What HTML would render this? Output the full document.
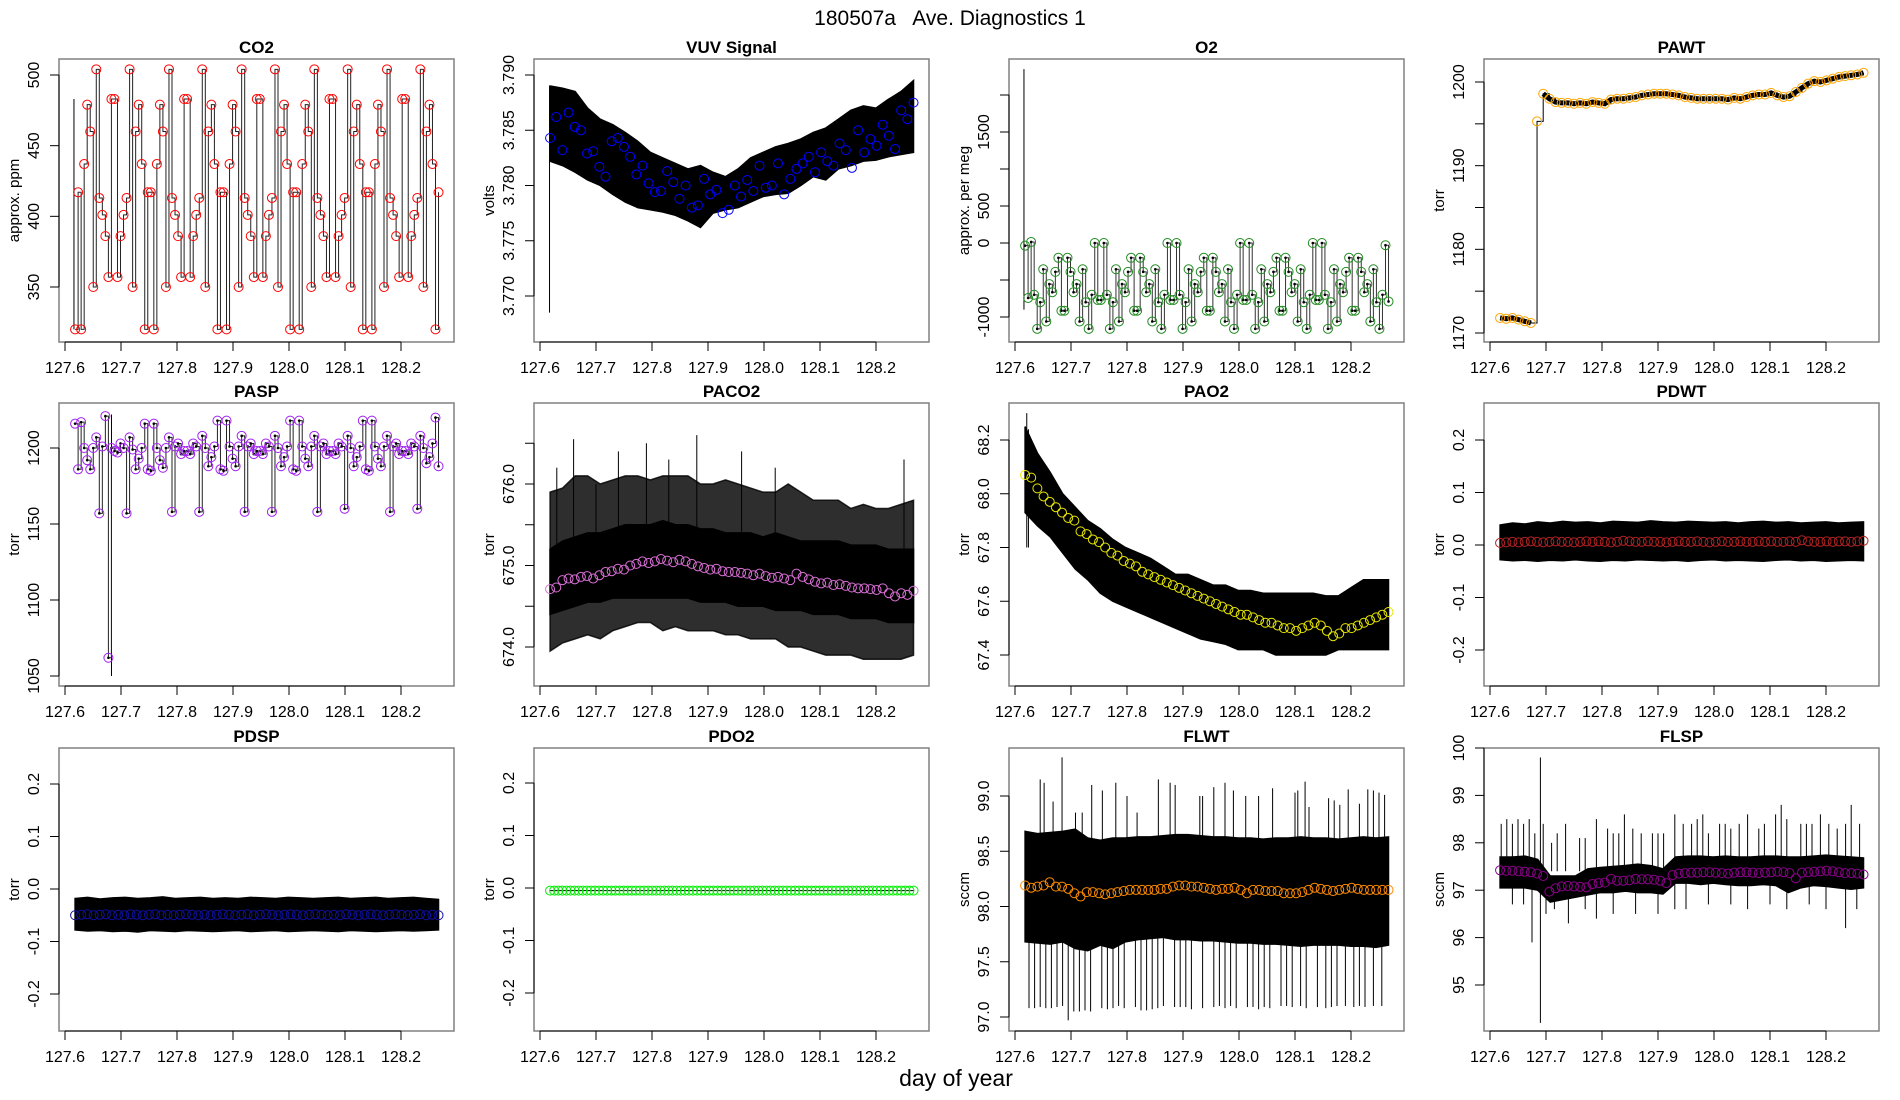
<!DOCTYPE html>
<html><head><meta charset="utf-8"><style>
html,body{margin:0;padding:0;background:#fff;}
svg{display:block;font-family:"Liberation Sans",sans-serif;}
</style></head><body>
<svg id="chart" width="1900" height="1100" viewBox="0 0 1900 1100">
<text x="950" y="25" text-anchor="middle" font-size="21" xml:space="preserve" style="white-space:pre">180507a   Ave. Diagnostics 1</text>
<text x="956" y="1086" text-anchor="middle" font-size="23">day of year</text>
</svg>
<script>
// ---- data ----
const xTicks=[127.6,127.7,127.8,127.9,128.0,128.1,128.2];
const xTickLabels=["127.6","127.7","127.8","127.9","128.0","128.1","128.2"];
const tStart=127.618, tEnd=128.267;

const co2Vals=[320,417,320,437,479,460,350,504,413,401,386,357,483,483,357,386,401,413,504,350,460,479,437,320,417,417,320,437,479,460,350,504,413,401,386,357,483,483,357,386,401,413,504,350,460,479,437,320,417,417,320,437,479,460,350,504,413,401,386,357,483,483,357,386,401,413,504,350,460,479,437,320,417,417,320,437,479,460,350,504,413,401,386,357,483,483,357,386,401,413,504,350,460,479,437,320,417,417,320,437,479,460,350,504,413,401,386,357,483,483,357,386,401,413,504,350,460,479,437,320,417];

const vuvVals=[3.7843,3.7862,3.7832,3.7866,3.7853,3.7850,3.7829,3.7831,3.7817,3.7808,3.7840,3.7843,3.7835,3.7826,3.7810,3.7818,3.7802,3.7794,3.7795,3.7813,3.7803,3.7788,3.7800,3.7780,3.7782,3.7806,3.7792,3.7796,3.7775,3.7778,3.7800,3.7790,3.7805,3.7795,3.7818,3.7798,3.7800,3.7820,3.7792,3.7806,3.7815,3.7820,3.7826,3.7812,3.7830,3.7822,3.7818,3.7838,3.7832,3.7816,3.7850,3.7830,3.7842,3.7836,3.7855,3.7845,3.7833,3.7868,3.7860,3.7875];
const vuvHi=[3.7890,3.7888,3.7885,3.7870,3.7860,3.7855,3.7848,3.7840,3.7830,3.7825,3.7820,3.7815,3.7818,3.7812,3.7808,3.7815,3.7825,3.7830,3.7835,3.7838,3.7842,3.7848,3.7852,3.7860,3.7868,3.7872,3.7870,3.7878,3.7885,3.7895];
const vuvLo=[3.7822,3.7818,3.7812,3.7805,3.7800,3.7792,3.7785,3.7780,3.7778,3.7776,3.7773,3.7768,3.7762,3.7775,3.7778,3.7780,3.7785,3.7790,3.7792,3.7793,3.7800,3.7808,3.7805,3.7815,3.7818,3.7822,3.7823,3.7826,3.7828,3.7830];

const o2Vals=[-36,-743,14,-700,-1160,-800,-355,-1060,-555,-665,-390,-200,-915,-915,-200,-390,-665,-555,-1060,-355,-800,-1160,-700,0,-770,-770,0,-700,-1160,-800,-355,-1060,-555,-665,-390,-200,-915,-915,-200,-390,-665,-555,-1060,-355,-800,-1160,-700,0,-770,-770,0,-700,-1160,-800,-355,-1060,-555,-665,-390,-200,-915,-915,-200,-390,-665,-555,-1060,-355,-800,-1160,-700,0,-770,-770,0,-700,-1160,-800,-355,-1060,-555,-665,-390,-200,-915,-915,-200,-390,-665,-555,-1060,-355,-800,-1160,-700,0,-770,-770,0,-700,-1160,-800,-355,-1060,-555,-665,-390,-200,-915,-915,-200,-390,-665,-555,-1060,-355,-800,-1160,-700,-30,-790];

const pawtVals=[1171.8,1171.7,1171.8,1171.6,1171.4,1171.2,1195.3,1198.6,1198.0,1197.6,1197.5,1197.5,1197.4,1197.5,1197.4,1197.6,1197.5,1197.4,1197.9,1198.0,1198.0,1198.1,1198.2,1198.4,1198.5,1198.6,1198.6,1198.6,1198.5,1198.4,1198.2,1198.1,1198.0,1198.0,1198.0,1198.0,1198.0,1197.9,1198.1,1198.0,1198.2,1198.4,1198.5,1198.5,1198.7,1198.4,1198.2,1198.3,1198.8,1199.3,1199.8,1200.1,1200.0,1200.2,1200.4,1200.6,1200.7,1200.8,1200.9,1201.1];

const paspVals=[1216,1186,1217,1200,1192,1186,1200,1207,1157,1201,1221,1062,1200,1198,1197,1203,1200,1157,1207,1199,1186,1193,1200,1216,1186,1185,1216,1200,1192,1187,1200,1207,1158,1201,1203,1196,1198,1198,1196,1203,1201,1158,1208,1200,1188,1194,1201,1218,1186,1185,1218,1201,1193,1188,1201,1208,1158,1201,1203,1196,1198,1198,1196,1203,1201,1158,1208,1200,1188,1194,1201,1218,1186,1185,1218,1201,1193,1188,1201,1208,1158,1201,1203,1196,1198,1198,1196,1203,1201,1160,1208,1200,1188,1194,1201,1218,1186,1185,1218,1201,1193,1188,1201,1208,1158,1201,1203,1196,1198,1198,1196,1203,1201,1160,1208,1200,1190,1194,1203,1220,1188];

const paco2Vals=[674.71,674.73,674.82,674.84,674.83,674.86,674.87,674.84,674.88,674.92,674.93,674.96,674.95,675.00,675.02,675.05,675.03,675.05,675.08,675.06,675.04,675.07,675.05,675.02,674.99,674.97,674.95,674.96,674.93,674.92,674.92,674.91,674.90,674.88,674.90,674.87,674.85,674.86,674.84,674.82,674.90,674.86,674.83,674.80,674.78,674.79,674.76,674.77,674.75,674.73,674.72,674.72,674.71,674.70,674.72,674.66,674.62,674.66,674.64,674.69];
const paco2CoreHi=[675.2,675.3,675.35,675.4,675.4,675.45,675.5,675.5,675.5,675.55,675.5,675.5,675.45,675.45,675.4,675.4,675.4,675.35,675.4,675.35,675.3,675.3,675.3,675.3,675.25,675.25,675.25,675.2,675.2,675.2];
const paco2CoreLo=[674.4,674.45,674.5,674.55,674.55,674.6,674.6,674.6,674.6,674.6,674.6,674.6,674.55,674.55,674.55,674.5,674.5,674.5,674.45,674.45,674.45,674.4,674.4,674.4,674.35,674.35,674.35,674.3,674.3,674.3];
const paco2OutHi=[675.9,675.95,676.1,676.1,676.0,676.05,676.1,676.1,676.05,676.1,676.1,676.1,676.0,676.0,676.05,676.0,675.95,675.9,675.9,676.0,675.9,675.8,675.8,675.8,675.7,675.75,675.7,675.7,675.75,675.8];
const paco2OutLo=[673.95,674.05,674.1,674.15,674.1,674.2,674.25,674.3,674.3,674.2,674.25,674.2,674.2,674.2,674.15,674.15,674.1,674.1,674.1,674.0,674.0,673.95,673.9,673.9,673.9,673.85,673.85,673.85,673.85,673.9];
const paco2SpikeT=[127.63,127.66,127.70,127.74,127.79,127.83,127.88,127.96,128.02,128.25];
const paco2SpikeHi=[676.2,676.55,676.0,676.4,676.5,676.3,676.6,676.4,676.2,676.3];

const pao2Vals=[68.07,68.06,68.02,67.99,67.97,67.95,67.93,67.91,67.90,67.86,67.85,67.83,67.82,67.80,67.78,67.77,67.75,67.74,67.73,67.71,67.70,67.69,67.68,67.67,67.66,67.65,67.64,67.63,67.62,67.61,67.60,67.59,67.58,67.57,67.56,67.55,67.55,67.54,67.53,67.52,67.52,67.51,67.50,67.50,67.49,67.50,67.51,67.52,67.51,67.49,67.47,67.48,67.50,67.50,67.51,67.52,67.53,67.54,67.55,67.56];
const pao2Hi=[68.25,68.15,68.08,68.0,67.95,67.9,67.87,67.83,67.8,67.78,67.76,67.73,67.7,67.7,67.68,67.66,67.66,67.64,67.64,67.63,67.63,67.63,67.63,67.63,67.62,67.62,67.65,67.68,67.68,67.68];
const pao2Lo=[67.93,67.88,67.84,67.78,67.72,67.68,67.63,67.6,67.58,67.56,67.54,67.52,67.5,67.48,67.46,67.45,67.44,67.42,67.42,67.42,67.4,67.4,67.4,67.4,67.4,67.42,67.42,67.42,67.42,67.42];

const pdwtVals=[0.004,0.005,0.006,0.005,0.006,0.007,0.006,0.005,0.006,0.007,0.006,0.006,0.005,0.006,0.007,0.006,0.007,0.006,0.005,0.006,0.008,0.007,0.006,0.006,0.007,0.006,0.006,0.005,0.006,0.007,0.006,0.006,0.007,0.006,0.005,0.006,0.007,0.006,0.006,0.007,0.006,0.006,0.007,0.006,0.007,0.006,0.006,0.007,0.006,0.009,0.007,0.006,0.006,0.007,0.006,0.007,0.007,0.006,0.007,0.008];
const pdwtHi=[0.038,0.042,0.040,0.044,0.042,0.045,0.043,0.044,0.042,0.045,0.044,0.043,0.046,0.044,0.043,0.045,0.044,0.043,0.044,0.042,0.044,0.045,0.043,0.044,0.042,0.043,0.044,0.042,0.043,0.044];
const pdwtLo=[-0.028,-0.030,-0.029,-0.031,-0.029,-0.030,-0.028,-0.030,-0.031,-0.029,-0.030,-0.028,-0.029,-0.030,-0.029,-0.031,-0.029,-0.028,-0.030,-0.029,-0.030,-0.031,-0.029,-0.028,-0.030,-0.029,-0.031,-0.030,-0.029,-0.030];

const pdspVals=[-0.050,-0.049,-0.048,-0.050,-0.049,-0.048,-0.050,-0.049,-0.050,-0.048,-0.049,-0.050,-0.049,-0.048,-0.050,-0.049,-0.050,-0.049,-0.048,-0.049,-0.050,-0.049,-0.050,-0.049,-0.048,-0.049,-0.050,-0.049,-0.048,-0.050,-0.049,-0.048,-0.049,-0.050,-0.049,-0.048,-0.049,-0.050,-0.049,-0.048,-0.049,-0.050,-0.049,-0.050,-0.048,-0.049,-0.050,-0.049,-0.048,-0.049,-0.050,-0.049,-0.048,-0.049,-0.050,-0.049,-0.048,-0.050,-0.049,-0.050];
const pdspHi=[-0.018,-0.016,-0.019,-0.017,-0.016,-0.018,-0.017,-0.015,-0.018,-0.017,-0.016,-0.018,-0.017,-0.018,-0.016,-0.017,-0.018,-0.016,-0.017,-0.018,-0.017,-0.016,-0.018,-0.017,-0.016,-0.018,-0.017,-0.016,-0.018,-0.020];
const pdspLo=[-0.078,-0.080,-0.079,-0.081,-0.080,-0.082,-0.079,-0.080,-0.081,-0.079,-0.080,-0.081,-0.080,-0.079,-0.081,-0.080,-0.079,-0.081,-0.080,-0.079,-0.080,-0.081,-0.079,-0.080,-0.081,-0.080,-0.079,-0.080,-0.079,-0.078];

const pdo2Vals=[-0.005,-0.005,-0.005,-0.005,-0.005,-0.005,-0.005,-0.005,-0.005,-0.005,-0.005,-0.005,-0.005,-0.005,-0.005,-0.005,-0.005,-0.005,-0.005,-0.005,-0.005,-0.005,-0.005,-0.005,-0.005,-0.005,-0.005,-0.005,-0.005,-0.005,-0.005,-0.005,-0.005,-0.005,-0.005,-0.005,-0.005,-0.005,-0.005,-0.005,-0.005,-0.005,-0.005,-0.005,-0.005,-0.005,-0.005,-0.005,-0.005,-0.005,-0.005,-0.005,-0.005,-0.005,-0.005,-0.005,-0.005,-0.005,-0.005,-0.005,-0.005,-0.005,-0.005,-0.005,-0.005,-0.005,-0.005,-0.005,-0.005,-0.005,-0.005,-0.005,-0.005,-0.005,-0.005,-0.005,-0.005,-0.005,-0.005,-0.005,-0.005,-0.005,-0.005,-0.005,-0.005,-0.005,-0.005,-0.005,-0.005,-0.005];

const flwtVals=[98.19,98.17,98.18,98.19,98.22,98.18,98.18,98.16,98.12,98.09,98.13,98.13,98.12,98.11,98.12,98.13,98.14,98.15,98.15,98.15,98.15,98.15,98.16,98.16,98.18,98.19,98.19,98.18,98.18,98.17,98.16,98.15,98.16,98.16,98.17,98.15,98.12,98.15,98.15,98.14,98.14,98.14,98.12,98.12,98.12,98.13,98.15,98.17,98.16,98.15,98.14,98.15,98.16,98.17,98.16,98.15,98.15,98.15,98.15,98.15];
const flwtHi=[98.68,98.66,98.67,98.68,98.7,98.62,98.6,98.62,98.62,98.63,98.63,98.64,98.65,98.65,98.64,98.63,98.63,98.62,98.62,98.61,98.62,98.62,98.63,98.62,98.62,98.61,98.62,98.63,98.62,98.63];
const flwtLo=[97.68,97.67,97.66,97.68,97.62,97.6,97.65,97.62,97.68,97.7,97.71,97.72,97.7,97.7,97.69,97.69,97.68,97.67,97.67,97.66,97.66,97.65,97.64,97.65,97.65,97.65,97.64,97.64,97.63,97.65];
const flwtUpT=[127.645,127.652,127.668,127.684,127.708,127.72,127.737,127.756,127.78,127.8,127.818,127.856,127.877,127.886,127.93,127.935,127.955,127.975,127.99,128.012,128.035,128.06,128.1,128.105,128.118,128.125,128.16,128.17,128.18,128.195,128.215,128.23,128.24,128.25,128.26];
const flwtUpHi=[99.15,99.12,98.95,99.35,98.85,98.85,99.1,99.05,99.12,99.0,98.85,99.15,99.12,99.1,99.0,99.0,99.08,99.12,99.05,99.0,99.0,99.07,99.03,99.05,99.13,98.9,98.98,98.96,98.92,99.06,98.93,99.06,99.05,99.03,99.01];
const flwtDnT=[127.625,127.635,127.645,127.655,127.665,127.675,127.685,127.695,127.705,127.715,127.725,127.735,127.755,127.765,127.775,127.785,127.795,127.815,127.825,127.835,127.845,127.855,127.865,127.885,127.895,127.905,127.915,127.935,127.955,127.965,127.975,127.985,127.995,128.015,128.025,128.035,128.045,128.055,128.075,128.085,128.095,128.11,128.12,128.14,128.155,128.165,128.175,128.19,128.205,128.215,128.225,128.24,128.255];
const flwtDnLo=[97.08,97.08,97.09,97.08,97.08,97.09,97.1,96.97,97.05,97.05,97.06,97.05,97.08,97.07,97.08,97.1,97.08,97.09,97.06,97.06,97.07,97.08,97.1,97.09,97.09,97.09,97.07,97.08,97.09,97.1,97.08,97.1,97.08,97.09,97.09,97.07,97.09,97.08,97.1,97.1,97.09,97.1,97.08,97.09,97.08,97.09,97.1,97.1,97.09,97.1,97.09,97.1,97.1];

const flspVals=[97.42,97.41,97.41,97.40,97.39,97.38,97.35,97.30,96.97,97.04,97.08,97.09,97.08,97.07,97.06,97.13,97.15,97.16,97.24,97.20,97.20,97.21,97.24,97.23,97.23,97.22,97.20,97.15,97.32,97.35,97.36,97.37,97.37,97.38,97.38,97.37,97.36,97.35,97.37,97.38,97.38,97.37,97.36,97.37,97.38,97.39,97.38,97.36,97.25,97.37,97.38,97.39,97.40,97.41,97.40,97.38,97.36,97.36,97.35,97.33];
const flspHi=[97.7,97.7,97.72,97.65,97.3,97.3,97.3,97.45,97.48,97.5,97.52,97.55,97.52,97.45,97.7,97.72,97.72,97.7,97.72,97.7,97.7,97.72,97.72,97.7,97.7,97.72,97.74,97.72,97.7,97.68];
const flspLo=[97.05,97.05,97.05,97.0,96.75,96.8,96.85,96.9,96.95,96.95,96.98,96.95,96.95,96.92,97.15,97.15,97.12,97.15,97.12,97.1,97.1,97.12,97.1,96.95,97.05,97.1,97.08,97.05,97.02,97.05];
const flspUpT=[127.62,127.63,127.64,127.65,127.66,127.67,127.68,127.695,127.71,127.72,127.735,127.76,127.77,127.79,127.81,127.82,127.83,127.84,127.855,127.87,127.89,127.9,127.91,127.93,127.945,127.96,127.97,127.98,127.99,128.01,128.02,128.03,128.045,128.06,128.08,128.09,128.11,128.12,128.13,128.155,128.165,128.175,128.19,128.205,128.22,128.235,128.245,128.26];
const flspUpHi=[98.4,98.5,98.4,98.5,98.4,98.5,98.2,98.4,98.0,98.2,98.4,98.1,98.1,98.5,98.3,98.2,98.2,98.6,98.3,98.2,98.2,98.2,98.2,98.6,98.4,98.4,98.5,98.6,98.2,98.4,98.4,98.3,98.4,98.6,98.3,98.4,98.6,98.8,98.5,98.4,98.4,98.4,98.6,98.4,98.3,98.4,98.8,98.4];
const flspDnT=[127.64,127.66,127.675,127.70,127.715,127.74,127.77,127.79,127.82,127.86,127.9,127.93,127.95,127.99,128.03,128.06,128.1,128.13,128.17,128.2,128.235,128.255];
const flspDnLo=[96.7,96.7,95.9,96.5,96.6,96.3,96.6,96.4,96.5,96.5,96.5,96.6,96.6,96.7,96.7,96.6,96.7,96.6,96.7,96.6,96.2,96.6];

// ---- layout ----
const svg=document.getElementById('chart');
const NS='http://www.w3.org/2000/svg';
const colX=[59,534,1009,1484], rowY=[59,403,748], BW=395, BH=283;
function el(tag,attrs,parent){const e=document.createElementNS(NS,tag);for(const k in attrs)e.setAttribute(k,attrs[k]);(parent||svg).appendChild(e);return e;}

const panels=[
 {id:'co2',title:'CO2',ylab:'approx. ppm',c:0,r:0,ya:[500,75],yb:[350,287],ticks:[350,400,450,500],labels:[350,400,450,500],fmt:0,col:'#ff0000'},
 {id:'vuv',title:'VUV Signal',ylab:'volts',c:1,r:0,ya:[3.790,75],yb:[3.770,296],ticks:[3.770,3.775,3.780,3.785,3.790],labels:[3.770,3.775,3.780,3.785,3.790],fmt:3,col:'#0000ff'},
 {id:'o2',title:'O2',ylab:'approx. per meg',c:2,r:0,ya:[1500,132],yb:[-1000,317],ticks:[-1000,-500,0,500,1000,1500,2000],labels:[-1000,0,500,1500],fmt:0,col:'#228b22'},
 {id:'pawt',title:'PAWT',ylab:'torr',c:3,r:0,ya:[1200,82],yb:[1170,333],ticks:[1170,1175,1180,1185,1190,1195,1200],labels:[1170,1180,1190,1200],fmt:0,col:'#ffa500'},
 {id:'pasp',title:'PASP',ylab:'torr',c:0,r:1,ya:[1200,448],yb:[1050,676],ticks:[1050,1100,1150,1200],labels:[1050,1100,1150,1200],fmt:0,col:'#a020f0'},
 {id:'paco2',title:'PACO2',ylab:'torr',c:1,r:1,ya:[676,484],yb:[674,647],ticks:[674,674.5,675,675.5,676,676.5],labels:[674,675,676],fmt:1,col:'#da70d6'},
 {id:'pao2',title:'PAO2',ylab:'torr',c:2,r:1,ya:[68.2,440],yb:[67.4,655],ticks:[67.4,67.6,67.8,68.0,68.2],labels:[67.4,67.6,67.8,68.0,68.2],fmt:1,col:'#e8e800'},
 {id:'pdwt',title:'PDWT',ylab:'torr',c:3,r:1,ya:[0.2,440],yb:[-0.2,650],ticks:[-0.2,-0.1,0,0.1,0.2],labels:[-0.2,-0.1,0,0.1,0.2],fmt:1,col:'#b22222'},
 {id:'pdsp',title:'PDSP',ylab:'torr',c:0,r:2,ya:[0.2,784],yb:[-0.2,994],ticks:[-0.2,-0.1,0,0.1,0.2],labels:[-0.2,-0.1,0,0.1,0.2],fmt:1,col:'#1010a0'},
 {id:'pdo2',title:'PDO2',ylab:'torr',c:1,r:2,ya:[0.2,783],yb:[-0.2,993],ticks:[-0.2,-0.1,0,0.1,0.2],labels:[-0.2,-0.1,0,0.1,0.2],fmt:1,col:'#00ee00'},
 {id:'flwt',title:'FLWT',ylab:'sccm',c:2,r:2,ya:[99,796],yb:[97,1017],ticks:[97,97.5,98,98.5,99],labels:[97,97.5,98,98.5,99],fmt:1,col:'#ff8c00'},
 {id:'flsp',title:'FLSP',ylab:'sccm',c:3,r:2,ya:[100,748],yb:[95,985],ticks:[95,96,97,98,99,100],labels:[95,96,97,98,99,100],fmt:0,col:'#8b008b'}
];

function drawBand(g,xs,ys,hi,lo,fill){
  const M=hi.length;let pts=[];
  for(let j=0;j<M;j++){pts.push(xs(tStart+j*(tEnd-tStart)/(M-1))+','+ys(hi[j]));}
  for(let j=M-1;j>=0;j--){pts.push(xs(tStart+j*(tEnd-tStart)/(M-1))+','+ys(lo[j]));}
  const p=el('polygon',{points:pts.join(' '),fill:fill,stroke:fill,'stroke-width':1.5},g);
  
  
}
function drawSpikes(g,xs,ys,ts,ends,base){
  for(let k=0;k<ts.length;k++){
    const b=Array.isArray(base)?base[k]:base;
    const l=el('line',{x1:xs(ts[k]),x2:xs(ts[k]),y1:ys(b),y2:ys(ends[k]),stroke:'#000','stroke-width':1},g);
    
    
  }
}
function seriesPts(vals,xs,ys){const N=vals.length;return vals.map((v,i)=>[xs(tStart+i*(tEnd-tStart)/(N-1)),ys(v)]);}
function drawLine(g,pts,w,color){
  const l=el('polyline',{points:pts.map(p=>p.join(',')).join(' '),fill:'none',stroke:color||'#000','stroke-width':w},g);
  
  
}
function drawStep(g,pts,w,color){
  let d='M'+pts[0][0]+','+pts[0][1];
  for(let i=1;i<pts.length;i++){d+=' L'+pts[i][0]+','+pts[i-1][1]+' L'+pts[i][0]+','+pts[i][1];}
  const l=el('path',{d:d,fill:'none',stroke:color||'#000','stroke-width':w},g);
  
  
}
function drawCircles(g,pts,color,dots){
  pts.forEach(p=>{
    if(dots){const d=el('circle',{cx:p[0],cy:p[1],r:1.3,fill:'#000'},g);
      
      }
    const c=el('circle',{cx:p[0],cy:p[1],r:4.5,fill:'none',stroke:color,'stroke-width':1},g);
    
    
  });
}
function fmtNum(v,d){return v.toFixed(d);}

panels.forEach(P=>{
  const x0=colX[P.c], y0=rowY[P.r];
  const g=el('g',{});
  
  
  const xs=t=>x0+6+(t-127.6)*560;
  const ys=v=>P.ya[1]+(v-P.ya[0])*(P.yb[1]-P.ya[1])/(P.yb[0]-P.ya[0]);
  const clipId='clip-'+P.id;
  const cp=el('clipPath',{id:clipId},g);el('rect',{x:x0,y:y0,width:BW,height:BH},cp);
  const plot=el('g',{'clip-path':'url(#'+clipId+')'},g);
  
  

  if(P.id==='co2'){const pts=seriesPts(co2Vals,xs,ys);
    drawSpikes(plot,xs,ys,[127.616],[483],320);
    drawStep(plot,pts,1,'#222');drawCircles(plot,pts,P.col,false);}
  if(P.id==='vuv'){drawBand(plot,xs,ys,vuvHi,vuvLo,'#000');
    drawSpikes(plot,xs,ys,[127.617],[3.789],3.7685);
    drawCircles(plot,seriesPts(vuvVals,xs,ys),P.col,false);}
  if(P.id==='o2'){const pts=seriesPts(o2Vals,xs,ys);
    drawSpikes(plot,xs,ys,[127.616],[2350],-900);
    drawStep(plot,pts,1,'#333');drawCircles(plot,pts,P.col,true);}
  if(P.id==='pawt'){const pts=seriesPts(pawtVals,xs,ys);
    drawStep(plot,pts,1,'#000');
    drawLine(plot,pts.slice(0,6),5,'#000');drawLine(plot,pts.slice(7),5,'#000');
    drawCircles(plot,pts,P.col,false);}
  if(P.id==='pasp'){const pts=seriesPts(paspVals,xs,ys);
    drawSpikes(plot,xs,ys,[127.683],[1222],1050);
    drawStep(plot,pts,1,'#222');drawCircles(plot,pts,P.col,true);}
  if(P.id==='paco2'){drawBand(plot,xs,ys,paco2OutHi,paco2OutLo,'rgba(0,0,0,0.82)');
    drawBand(plot,xs,ys,paco2CoreHi,paco2CoreLo,'#000');
    drawSpikes(plot,xs,ys,paco2SpikeT,paco2SpikeHi,675);
    drawCircles(plot,seriesPts(paco2Vals,xs,ys),P.col,false);}
  if(P.id==='pao2'){drawBand(plot,xs,ys,pao2Hi,pao2Lo,'#000');
    drawSpikes(plot,xs,ys,[127.621,127.624],[68.3,68.24],67.8);
    drawCircles(plot,seriesPts(pao2Vals,xs,ys),P.col,false);}
  if(P.id==='pdwt'){drawBand(plot,xs,ys,pdwtHi,pdwtLo,'#000');
    drawCircles(plot,seriesPts(pdwtVals,xs,ys),P.col,false);}
  if(P.id==='pdsp'){drawBand(plot,xs,ys,pdspHi,pdspLo,'#000');
    drawCircles(plot,seriesPts(pdspVals,xs,ys),P.col,false);}
  if(P.id==='pdo2'){const pts=seriesPts(pdo2Vals,xs,ys);
    drawLine(plot,pts,1,'#000');drawCircles(plot,pts,P.col,false);}
  if(P.id==='flwt'){drawBand(plot,xs,ys,flwtHi,flwtLo,'#000');
    drawSpikes(plot,xs,ys,flwtUpT,flwtUpHi,98.5);
    drawSpikes(plot,xs,ys,flwtDnT,flwtDnLo,97.8);
    drawCircles(plot,seriesPts(flwtVals,xs,ys),P.col,false);}
  if(P.id==='flsp'){drawBand(plot,xs,ys,flspHi,flspLo,'#000');
    drawSpikes(plot,xs,ys,flspUpT,flspUpHi,97.4);
    drawSpikes(plot,xs,ys,flspDnT,flspDnLo,97.2);
    drawSpikes(plot,xs,ys,[127.690],[99.8],94.2);
    drawCircles(plot,seriesPts(flspVals,xs,ys),P.col,false);}

  const box=el('rect',{x:x0,y:y0,width:BW,height:BH,fill:'none',stroke:'#808080','stroke-width':1.5},g);
  
  
  const tt=el('text',{x:x0+BW/2,y:y0-6,'text-anchor':'middle','font-size':17,'font-weight':'bold'},g);
  tt.textContent=P.title;
  
  
  const by=y0+BH;
  const xa=el('line',{x1:xs(xTicks[0]),x2:xs(xTicks[xTicks.length-1]),y1:by,y2:by,stroke:'#000','stroke-width':1},g);
  
  
  xTicks.forEach((t,i)=>{
    const tk=el('line',{x1:xs(t),x2:xs(t),y1:by,y2:by+9,stroke:'#000','stroke-width':1},g);
    
    
    const tl=el('text',{x:xs(t),y:by+31,'text-anchor':'middle','font-size':16},g);
    tl.textContent=xTickLabels[i];
    
    
  });
  const ya=el('line',{x1:x0,x2:x0,y1:ys(P.ticks[0]),y2:ys(P.ticks[P.ticks.length-1]),stroke:'#000','stroke-width':1},g);
  
  
  P.ticks.forEach(v=>{
    const tk=el('line',{x1:x0-9,x2:x0,y1:ys(v),y2:ys(v),stroke:'#000','stroke-width':1},g);
    
    
  });
  P.labels.forEach(v=>{
    const lx=x0-20, ly=ys(v);
    const tl=el('text',{x:lx,y:ly,'text-anchor':'middle','font-size':16,transform:'rotate(-90 '+lx+' '+ly+')'},g);
    tl.textContent=fmtNum(v,P.fmt);
    
    
  });
  const lx=x0-40, ly=y0+BH/2;
  const yl=el('text',{x:lx,y:ly,'text-anchor':'middle','font-size':15,transform:'rotate(-90 '+lx+' '+ly+')'},g);
  yl.textContent=P.ylab;
  
  
});
</script>
</body></html>
